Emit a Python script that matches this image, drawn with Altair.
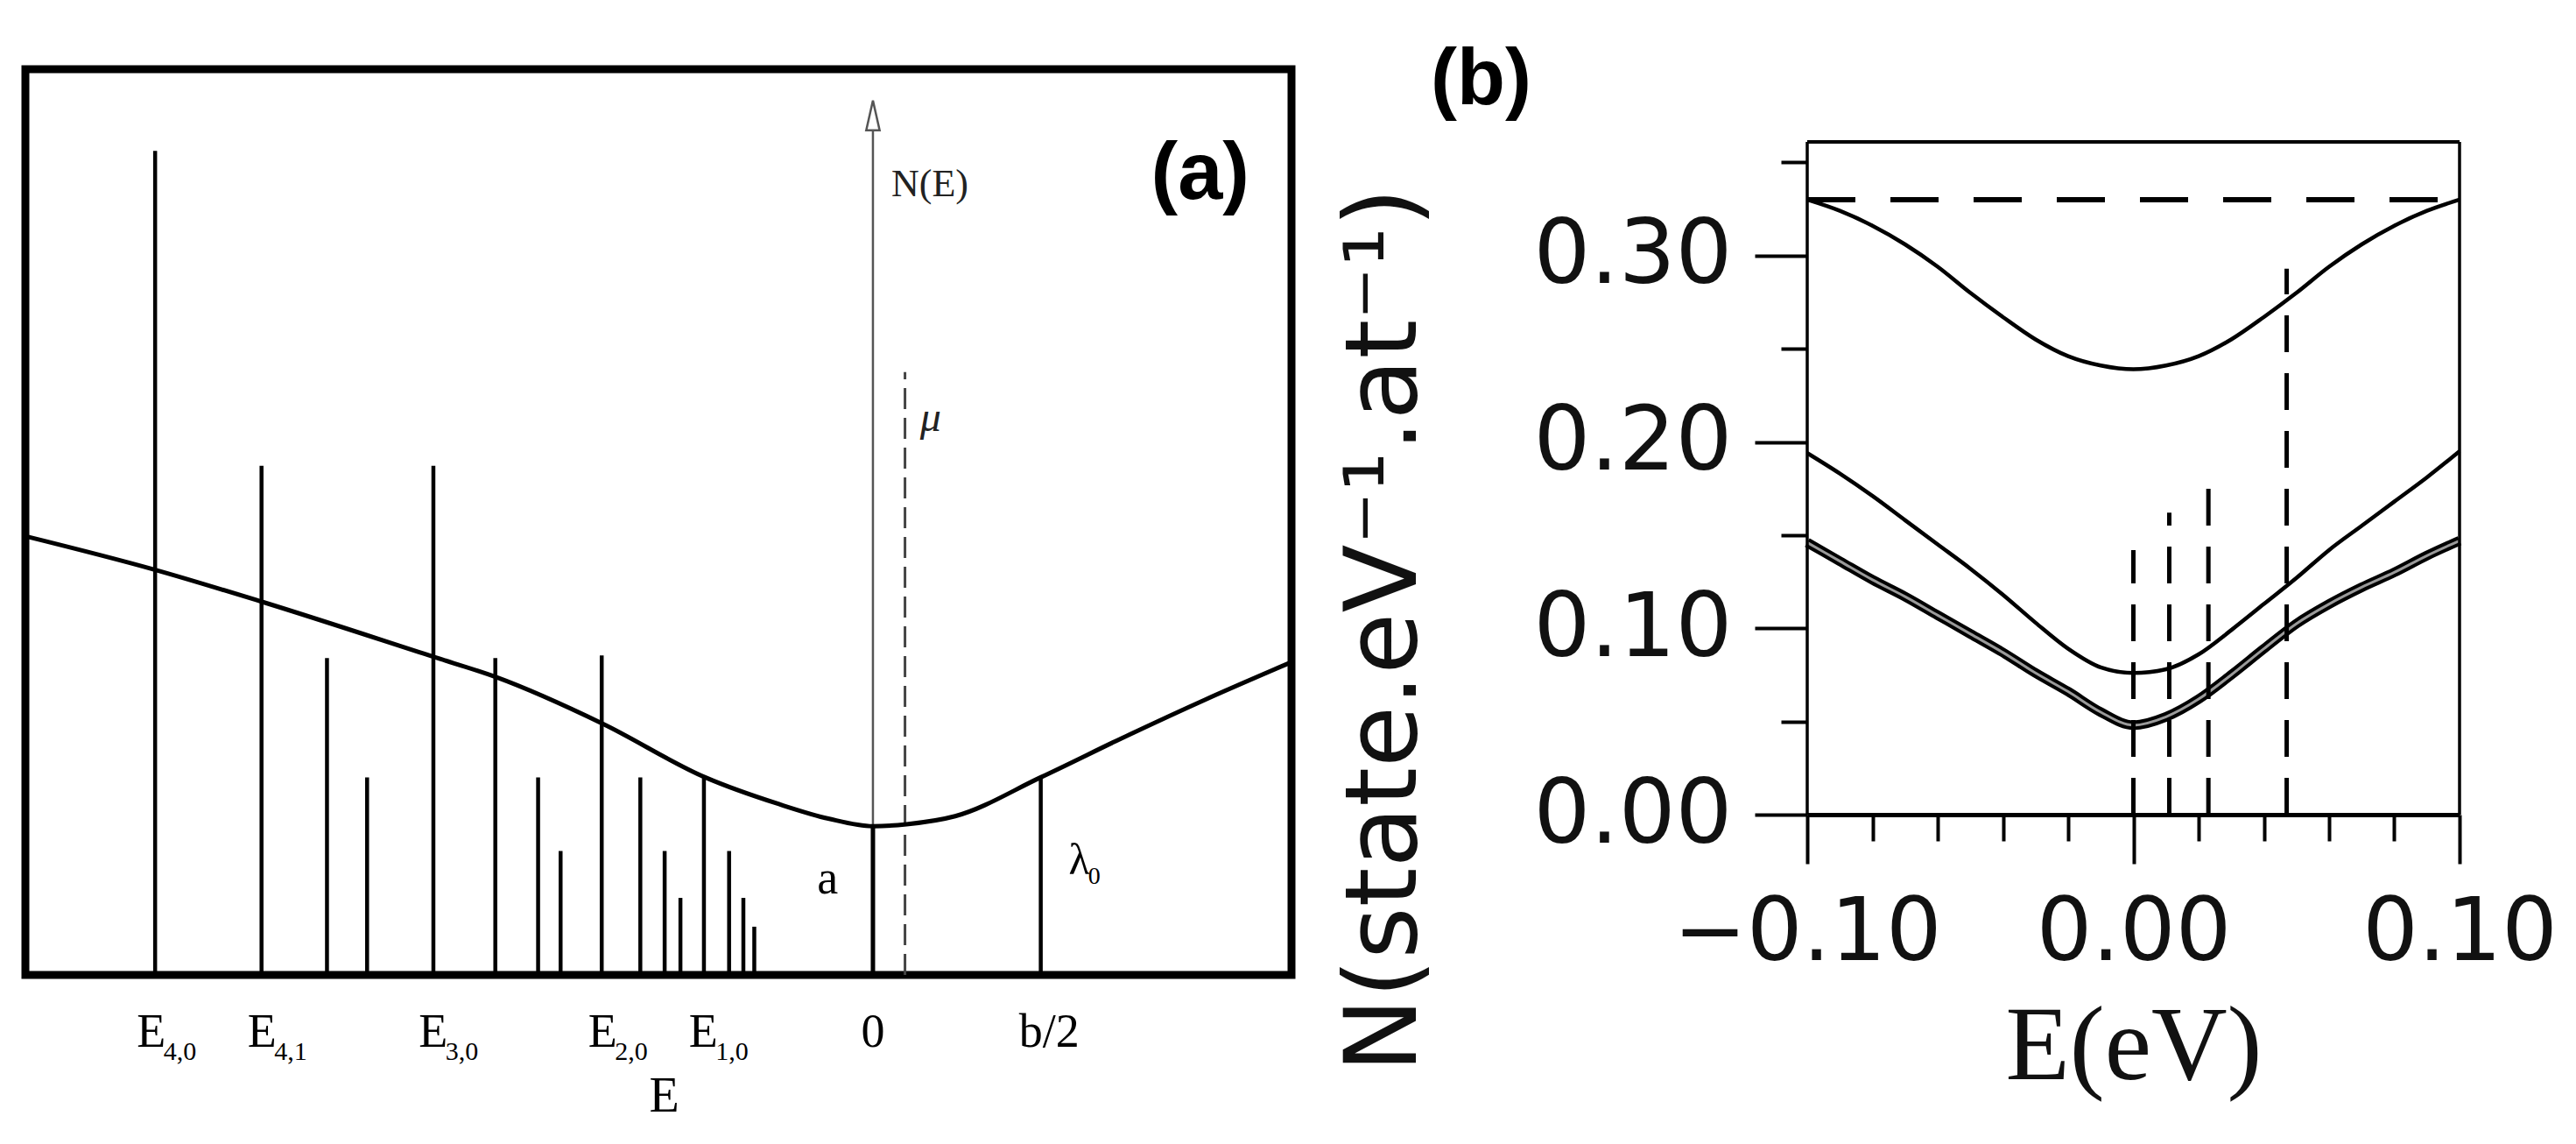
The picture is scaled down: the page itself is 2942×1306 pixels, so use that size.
import altair as alt
import pandas as pd

# ---------------- panel (a): schematic density of states ----------------
spike_E = [-4.277, -3.643, -3.253, -3.014, -2.619, -2.250, -1.995, -1.861,
           -1.616, -1.386, -1.241, -1.147, -1.007, -0.857, -0.772, -0.707, 1.0]
spike_N = [12.3, 7.6, 4.73, 2.95, 7.6, 4.73, 2.95, 1.85,
           4.77, 2.95, 1.85, 1.15, 2.95, 1.85, 1.15, 0.72, 2.95]
a_spike_E = [0.0]
a_spike_N = [2.22]
dos_E = [-5.05, -4.28, -3.64, -2.62, -2.25, -1.61, -1.0, -0.56, -0.26, 0.0,
         0.2, 0.49, 1.0, 1.53, 1.98, 2.494]
dos_N = [6.55, 6.05, 5.57, 4.75, 4.45, 3.75, 2.95, 2.55, 2.33, 2.22,
         2.25, 2.37, 2.95, 3.59, 4.11, 4.67]
ne_axis_top = 12.6
arrow_N = 12.83
mu_E = 0.191
mu_top = 9.0
level_E = [-4.30, -3.64, -2.62, -1.61, -1.01]
level_sub = ["4,0", "4,1", "3,0", "2,0", "1,0"]
mark_E = [0.0, 1.05]
mark_txt = ["0", "b/2"]
label_N = -0.86

# ---------------- panel (b): computed DOS ----------------
b_x = [-0.10, -0.09, -0.08, -0.07, -0.06, -0.05, -0.04, -0.03, -0.02, -0.01, 0.0,
       0.01, 0.02, 0.03, 0.04, 0.05, 0.06, 0.07, 0.08, 0.09, 0.10]
curve_top = [0.330, 0.324, 0.316, 0.306, 0.294, 0.280, 0.267, 0.255, 0.246, 0.241, 0.239,
             0.241, 0.246, 0.255, 0.267, 0.280, 0.294, 0.306, 0.316, 0.324, 0.330]
curve_mid = [0.194, 0.183, 0.171, 0.158, 0.145, 0.132, 0.118, 0.103, 0.089, 0.079, 0.076,
             0.078, 0.086, 0.099, 0.113, 0.127, 0.142, 0.155, 0.168, 0.181, 0.195]
curve_low = [0.146, 0.136, 0.126, 0.117, 0.107, 0.097, 0.087, 0.076, 0.066, 0.055, 0.048,
             0.0525, 0.062, 0.075, 0.089, 0.1025, 0.113, 0.122, 0.130, 0.139, 0.147]
dash_level = 0.330
vdash_x = [0.0, 0.011, 0.023, 0.047]
vdash_top = [0.142, 0.162, 0.182, 0.293]
box_x = [-0.10, 0.10]
box_top = 0.361

SERIF = "Liberation Serif"
SANS = "Liberation Sans"

# ======================= panel (a) =======================
sa_x = alt.Scale(domain=[-5.05, 2.494], nice=False, zero=False)
sa_y = alt.Scale(domain=[0, 13.52], nice=False, zero=False)
axis_a = alt.Axis(title="E", ticks=False, labels=False, domain=False, grid=False,
                  titleFont=SERIF, titleFontSize=56, titleFontWeight="normal",
                  titleColor="black", titleX=729, titleY=138,
                  titleBaseline="middle", titleAlign="center")


def ax(field="E"):
    return alt.X(f"{field}:Q", scale=sa_x, axis=axis_a)


def ay(field="N"):
    return alt.Y(f"{field}:Q", scale=sa_y, axis=None)


spikes_df = pd.DataFrame({"E": spike_E, "N": spike_N, "N0": [0.0] * len(spike_E)})
a_df = pd.DataFrame({"E": a_spike_E, "N": a_spike_N, "N0": [0.0]})
dos_df = pd.DataFrame({"E": dos_E, "N": dos_N})
ne_df = pd.DataFrame({"E": [0.0], "N": [ne_axis_top], "N0": [0.0]})
arrow_df = pd.DataFrame({"E": [0.0], "N": [arrow_N]})
mu_df = pd.DataFrame({"E": [mu_E], "N": [mu_top], "N0": [0.0]})
lev_df = pd.DataFrame({"E": level_E, "N": [label_N] * len(level_E),
                       "main": ["E"] * len(level_E), "sub": level_sub})
mark_df = pd.DataFrame({"E": mark_E, "N": [label_N] * len(mark_E), "txt": mark_txt})
inner_df = pd.DataFrame({"E": [0.11, 0.28, -0.27, 1.95],
                         "N": [11.8, 8.3, 1.42, 11.95],
                         "txt": ["N(E)", "μ", "a", "(a)"]})
lam_df = pd.DataFrame({"E": [1.23], "N": [1.70], "txt": ["λ"], "sub": ["0"]})

ne_axis = alt.Chart(ne_df).mark_rule(color="#555", strokeWidth=2.5).encode(
    x=ax(), y=ay("N0"), y2="N:Q")
arrow = alt.Chart(arrow_df).mark_point(
    shape="M0,-1L0.45,1L-0.45,1Z", size=1156, filled=True, fill="white",
    stroke="#555", strokeWidth=2.5, opacity=1).encode(x=ax(), y=ay())
spikes = alt.Chart(spikes_df).mark_rule(color="black", strokeWidth=4.5).encode(
    x=ax(), y=ay("N0"), y2="N:Q")
a_spike = alt.Chart(a_df).mark_rule(color="black", strokeWidth=5).encode(
    x=ax(), y=ay("N0"), y2="N:Q")
mu_line = alt.Chart(mu_df).mark_rule(color="#444", strokeWidth=3, strokeDash=[24, 10]).encode(
    x=ax(), y=ay("N0"), y2="N:Q")
dos_line = alt.Chart(dos_df).mark_line(color="black", strokeWidth=5, interpolate="monotone").encode(
    x=ax(), y=ay())
lev_main = alt.Chart(lev_df).mark_text(font=SERIF, fontSize=54, baseline="middle",
                                       align="center", color="black").encode(
    x=ax(), y=ay(), text="main:N")
lev_sub = alt.Chart(lev_df).mark_text(font=SERIF, fontSize=30, baseline="middle",
                                      align="left", dx=14, dy=22, color="black").encode(
    x=ax(), y=ay(), text="sub:N")
marks_txt = alt.Chart(mark_df).mark_text(font=SERIF, fontSize=54, baseline="middle",
                                         align="center", color="black").encode(
    x=ax(), y=ay(), text="txt:N")
ne_txt = alt.Chart(inner_df.iloc[[0]]).mark_text(font=SERIF, fontSize=44, baseline="middle",
                                                 align="left", color="#222").encode(
    x=ax(), y=ay(), text="txt:N")
mu_txt = alt.Chart(inner_df.iloc[[1]]).mark_text(font=SERIF, fontSize=48, fontStyle="italic",
                                                 baseline="middle", align="left", color="#222").encode(
    x=ax(), y=ay(), text="txt:N")
a_txt = alt.Chart(inner_df.iloc[[2]]).mark_text(font=SERIF, fontSize=54, baseline="middle",
                                                align="center", color="black").encode(
    x=ax(), y=ay(), text="txt:N")
panel_txt = alt.Chart(inner_df.iloc[[3]]).mark_text(font=SANS, fontSize=92, fontWeight="bold",
                                                    baseline="middle", align="center",
                                                    color="black").encode(
    x=ax(), y=ay(), text="txt:N")
lam_main = alt.Chart(lam_df).mark_text(font=SERIF, fontSize=50, baseline="middle",
                                       align="center", color="black").encode(
    x=ax(), y=ay(), text="txt:N")
lam_sub = alt.Chart(lam_df).mark_text(font=SERIF, fontSize=28, baseline="middle",
                                      align="left", dx=10, dy=18, color="black").encode(
    x=ax(), y=ay(), text="sub:N")

panel_a = alt.layer(
    ne_axis, arrow, spikes, a_spike, mu_line, dos_line,
    lev_main, lev_sub, marks_txt, ne_txt, mu_txt, a_txt, panel_txt, lam_main, lam_sub
).properties(width=1446, height=1034,
             view=alt.ViewBackground(stroke="black", strokeWidth=9, fill="white"))

# ======================= panel (b) =======================
sb_x = alt.Scale(domain=[-0.10, 0.10], nice=False, zero=False)
sb_y = alt.Scale(domain=[0, 0.400], nice=False, zero=False)
LABEL_FONT = "DejaVu Sans"

x_major = alt.Axis(
    orient="bottom", values=[-0.10, 0.0, 0.10], tickSize=56, tickWidth=4, tickColor="black",
    domain=True, domainWidth=5, domainColor="black", grid=False,
    labelFont=LABEL_FONT, labelFontSize=100, labelColor="#111", labelPadding=30,
    labelFlush=False, labelOverlap=False, labelLimit=0,
    labelExpr="datum.value < 0 ? '\u2212' + format(-datum.value, '.2f') : format(datum.value, '.2f')",
    title="E(eV)", titleFont=SERIF, titleFontSize=120, titleFontWeight="normal",
    titleColor="#111", titleX=372.5, titleY=265, titleBaseline="middle", titleAlign="center")
y_major = alt.Axis(
    orient="left", values=[0.0, 0.1, 0.2, 0.3], tickSize=60, tickWidth=4, tickColor="black",
    domain=False, grid=False, format=".2f",
    labelFont=LABEL_FONT, labelFontSize=102, labelColor="#111", labelPadding=26,
    labelFlush=False, labelOverlap=False, labelLimit=0,
    title="N(state.eV\u207b\u00b9.at\u207b\u00b9)", titleFont=LABEL_FONT, titleFontSize=114,
    titleFontWeight="normal", titleColor="#111", titleAngle=270,
    titleX=-482, titleY=640, titleBaseline="middle", titleAlign="center")
x_minor = alt.Axis(
    orient="bottom", values=[-0.08, -0.06, -0.04, -0.02, 0.02, 0.04, 0.06, 0.08],
    tickSize=30, tickWidth=4, tickColor="black", domain=False, grid=False,
    labels=False, title=None)
y_minor = alt.Axis(
    orient="left", values=[0.05, 0.15, 0.25, 0.35],
    tickSize=30, tickWidth=4, tickColor="black", domain=False, grid=False,
    labels=False, title=None)


def bx(field="x", axis=None):
    return alt.X(f"{field}:Q", scale=sb_x, axis=axis)


def by(field="y", axis=None):
    return alt.Y(f"{field}:Q", scale=sb_y, axis=axis)


top_df = pd.DataFrame({"x": b_x, "y": curve_top})
mid_df = pd.DataFrame({"x": b_x, "y": curve_mid})
low_df = pd.DataFrame({"x": b_x, "y": curve_low})
hdash_df = pd.DataFrame({"x": [-0.10], "x1": [0.10], "y": [dash_level]})
vdash_df = pd.DataFrame({"x": vdash_x, "y": vdash_top, "y0": [0.0] * len(vdash_x)})
box_side_df = pd.DataFrame({"x": box_x, "y": [box_top] * 2, "y0": [0.0] * 2})
box_top_df = pd.DataFrame({"x": [box_x[0]], "x1": [box_x[1]], "y": [box_top]})
blabel_df = pd.DataFrame({"x": [-0.20], "y": [0.394], "txt": ["(b)"]})

top_line = alt.Chart(top_df).mark_line(color="black", strokeWidth=4.5, interpolate="monotone").encode(
    x=bx(axis=x_major), y=by(axis=y_major))
mid_line = alt.Chart(mid_df).mark_line(color="black", strokeWidth=4.5, interpolate="monotone").encode(
    x=bx(axis=x_minor), y=by(axis=y_minor))
low_line = alt.Chart(low_df).mark_line(color="black", strokeWidth=11, interpolate="monotone").encode(
    x=bx(), y=by())
low_core = alt.Chart(low_df).mark_line(color="#9a9a9a", strokeWidth=3, interpolate="monotone").encode(
    x=bx(), y=by())
box_sides = alt.Chart(box_side_df).mark_rule(color="black", strokeWidth=3.5).encode(
    x=bx(), y=by("y0"), y2="y:Q")
box_top_rule = alt.Chart(box_top_df).mark_rule(color="black", strokeWidth=4).encode(
    x=bx(), x2="x1:Q", y=by())
hdash = alt.Chart(hdash_df).mark_rule(color="black", strokeWidth=6, strokeDash=[55, 40]).encode(
    x=bx(), x2="x1:Q", y=by())
vdash = alt.Chart(vdash_df).mark_rule(color="black", strokeWidth=5, strokeDash=[42, 24]).encode(
    x=bx(), y=by("y0"), y2="y:Q")
blabel = alt.Chart(blabel_df).mark_text(font=SANS, fontSize=90, fontWeight="bold",
                                        baseline="middle", align="center", color="black").encode(
    x=bx(), y=by(), text="txt:N")

panel_b = alt.layer(
    top_line, mid_line, low_line, low_core, box_sides, box_top_rule, hdash, vdash, blabel
).resolve_axis(x="independent", y="independent").properties(
    width=745, height=851,
    view=alt.ViewBackground(strokeWidth=0, fill="white"))

chart = alt.hconcat(panel_a, panel_b, spacing=35).properties(
    padding={"left": 6, "top": 38, "right": 0, "bottom": 0},
    background="white")

chart.save("out.html", embed_options={"renderer": "svg", "actions": False})
